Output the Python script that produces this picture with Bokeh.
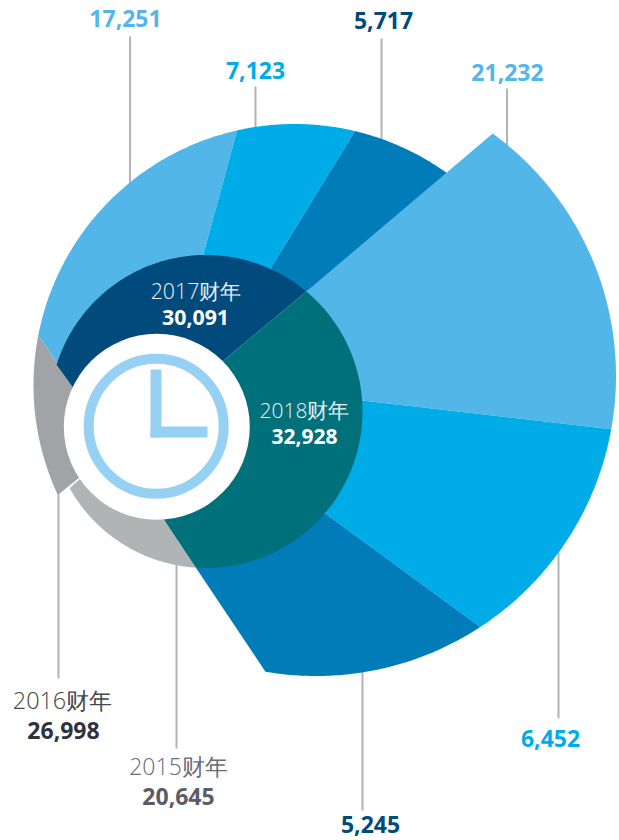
import math
from bokeh.plotting import figure
from bokeh.models import Range1d
from bokeh.core.properties import value
from bokeh.embed import file_html
from bokeh.resources import INLINE

# ---- chart data
years = ["2015财年", "2016财年", "2017财年", "2018财年"]
year_totals = [20645, 26998, 30091, 32928]
parts_2017 = [17251, 7123, 5717]
parts_2018 = [21232, 6452, 5245]

# ---- colours
LIGHT = "#52b7e8"; BRIGHT = "#00ace8"; MID = "#007cb8"; NAVY = "#004a7c"
TEAL = "#00707a"; GRAY_D = "#a0a4a7"; GRAY_L = "#b0b4b5"; CLOCK = "#96d1f3"
LEADER = "#b3b3b3"

# ---- layout: the picture's scale is its own pixel space
INNER = (205.5, 411, 156.5)    # circle of the year ring
OUTER_A = (294, 384.5, 261)    # arc of the 2016/2017 sectors
OUTER_B = (315.5, 375.5, 300)  # arc of the 2018 sectors
HOLE = (156.3, 426.3, 93)
HUB_R = (156, 416); HUB_L = (95, 416); HUB_N = (100, 425); HUB_G = (100, 460)


def arc(circle, a0, a1, n=80):
    cx, cy, r = circle
    pts = []
    for i in range(n + 1):
        t = math.radians(a0 + (a1 - a0) * i / n)
        pts.append((cx + r * math.cos(t), cy + r * math.sin(t)))
    return pts


def inner_pt(a):
    return arc(INNER, a, a, 1)[0]


sectors = [
    # outer arc, angles, then the closing vertices, colour
    (arc(OUTER_A, 155.1, 191.0) + [HUB_N, HUB_G], GRAY_D),
    (arc(INNER, 93.7, 150.6) + [HUB_G, HUB_L], GRAY_L),
    (arc(OUTER_A, 191.0, 257.3) + [inner_pt(269), HUB_N], LIGHT),
    (arc(OUTER_A, 257.3, 283.4) + [inner_pt(294.3), inner_pt(269)], BRIGHT),
    (arc(OUTER_A, 283.4, 310) + [inner_pt(309.9), inner_pt(294.3)], MID),
    (arc(OUTER_B, 306.1, 370.2) + [inner_pt(356), inner_pt(309.9)], LIGHT),
    (arc(OUTER_B, 10.2, 56.8) + [inner_pt(40.5), inner_pt(356)], BRIGHT),
    (arc(OUTER_B, 56.8, 99.7) + [inner_pt(93.7), inner_pt(40.5)], MID),
    (arc(INNER, 197.4, 309.9) + [HUB_R, HUB_N], NAVY),
    (arc(INNER, -50.1, 93.7) + [HUB_L, HUB_R], TEAL),
]

p = figure(width=619, height=840, x_range=Range1d(0, 619), y_range=Range1d(840, 0),
           output_backend="svg", toolbar_location=None, min_border=0)
p.axis.visible = False
p.grid.visible = False
p.outline_line_color = None
p.background_fill_color = "white"
p.border_fill_color = "white"

# leader lines, under the sectors
lx = [129.5, 255, 381, 506.5, 558, 362, 58, 176]
ly0 = [36, 86, 38, 88, 450, 600, 440, 520]
ly1 = [200, 140, 160, 160, 718, 810, 678, 748]
p.segment(lx, ly0, lx, ly1, line_color=LEADER, line_width=2)

p.patches([[q[0] for q in s[0]] for s in sectors],
          [[q[1] for q in s[0]] for s in sectors],
          fill_color=[s[1] for s in sectors], line_color=None)

# clock
p.circle([HOLE[0]], [HOLE[1]], radius=HOLE[2], fill_color="white", line_color=None)
p.circle([155.7], [425.8], radius=67.5, fill_color=None, line_color=CLOCK, line_width=10)
p.quad(left=[150, 150], right=[161, 207], top=[369, 426], bottom=[437, 437],
       fill_color=CLOCK, line_color=None)


def label(x, y, txt, color, bold=False, size="23px"):
    font = "Open Sans" if bold else "Open Sans Light"
    p.text([x], [y], text=[txt], text_color=color, text_align="center",
           text_baseline="middle", text_font=value(font),
           text_font_size=size, text_font_style="bold" if bold else "normal")


label(125, 17.5, f"{parts_2017[0]:,}", LIGHT, True)
label(255, 69.5, f"{parts_2017[1]:,}", BRIGHT, True)
label(383, 20, f"{parts_2017[2]:,}", NAVY, True)
label(507, 71.5, f"{parts_2018[0]:,}", LIGHT, True)
label(550, 738, f"{parts_2018[1]:,}", BRIGHT, True)
label(370, 824, f"{parts_2018[2]:,}", NAVY, True)

label(178, 765, years[0], "#6b6d75", size="23px")
label(178, 796, f"{year_totals[0]:,}", "#5a5c66", True)
label(62, 699, years[1], "#45474f", size="23.4px")
label(63, 730, f"{year_totals[1]:,}", "#2f323c", True)
label(195.5, 290, years[2], "#e6f0f5", size="21.3px")
label(195, 316.5, f"{year_totals[2]:,}", "white", True, "21.3px")
label(304, 409, years[3], "#e6f0f5", size="21px")
label(304, 436, f"{year_totals[3]:,}", "white", True, "21px")

open("out.html", "w").write(file_html(p, INLINE))
